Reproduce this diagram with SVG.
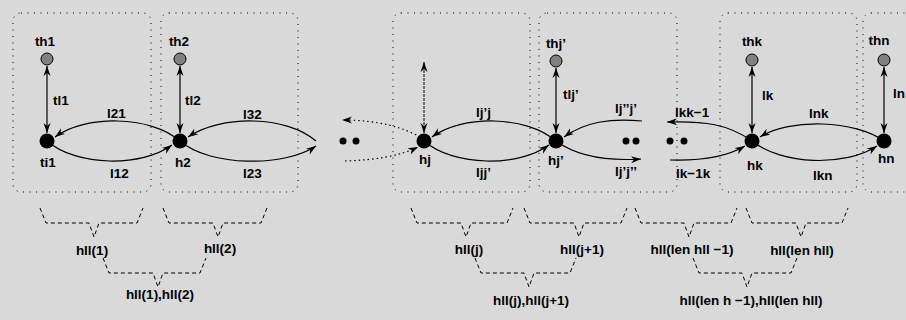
<svg xmlns="http://www.w3.org/2000/svg" width="906" height="320" viewBox="0 0 906 320">
  <style>
    text { font-family: "Liberation Sans", Arial, sans-serif; font-weight: bold; font-size: 13.5px; fill: #000; }
    .mid { text-anchor: middle; }
    .box { fill: none; stroke: #000; stroke-width: 1; stroke-dasharray: 1 5.5; }
    .edge { fill: none; stroke: #000; stroke-width: 1.2; }
    .dotted { fill: none; stroke: #000; stroke-width: 1.2; stroke-dasharray: 1.5 3; }
    .fine { fill: none; stroke: #000; stroke-width: 1; stroke-dasharray: 3 1; }
    .brace { fill: none; stroke: #000; stroke-width: 1; stroke-dasharray: 4 3; }
    .term { fill: #808080; stroke: #000; stroke-width: 1; }
    .dot { fill: #000; }
  </style>
  <defs>
    <marker id="arrow" viewBox="0 0 10 8" refX="10" refY="4" markerWidth="10" markerHeight="8" markerUnits="userSpaceOnUse" orient="auto-start-reverse">
      <path d="M0,0.5 L10,4 L0,7.5 L3,4 Z" fill="#000"/>
    </marker>
  </defs>

  <rect width="906" height="320" fill="#d9d9d9"/>

  <!-- dotted frames, one per hop -->
  <g id="frames">
    <rect class="box" x="13" y="13" width="138" height="179" rx="8"/>
    <rect class="box" x="161" y="13" width="137" height="179" rx="8"/>
    <rect class="box" x="393" y="13" width="137" height="179" rx="8"/>
    <rect class="box" x="539" y="13" width="138" height="179" rx="8"/>
    <rect class="box" x="720" y="13" width="137" height="179" rx="8"/>
    <rect class="box" x="863" y="13" width="137" height="179" rx="8"/>
  </g>

  <!-- connectors -->
  <g id="connectors">
    <!-- vertical tail links -->
    <path class="edge" d="M47,66 L47,133" marker-start="url(#arrow)" marker-end="url(#arrow)"/>
    <path class="edge" d="M180,66 L180,133" marker-start="url(#arrow)" marker-end="url(#arrow)"/>
    <path class="fine" d="M424,62 L424,133" marker-start="url(#arrow)" marker-end="url(#arrow)"/>
    <path class="edge" d="M556,68 L556,133" marker-start="url(#arrow)" marker-end="url(#arrow)"/>
    <path class="edge" d="M752,67 L752,133" marker-start="url(#arrow)" marker-end="url(#arrow)"/>
    <path class="edge" d="M884,67 L884,133" marker-start="url(#arrow)" marker-end="url(#arrow)"/>

    <!-- ti1 / h2 -->
    <path class="edge" d="M180,141 C150,115 85,115 55,137" marker-end="url(#arrow)"/>
    <path class="edge" d="M47,141 C77,167 142,167 172,145" marker-end="url(#arrow)"/>
    <path class="edge" d="M316,141 C286,115 221,115 188,137" marker-end="url(#arrow)"/>
    <path class="edge" d="M180,141 C210,167 285,167 316,146" marker-end="url(#arrow)"/>

    <!-- hj side links -->
    <path class="dotted" d="M424,139 C405,128 380,120 342,120" marker-end="url(#arrow)"/>
    <path class="dotted" d="M345,161 C375,160 400,156 418,147" marker-end="url(#arrow)"/>

    <!-- hj / hj' -->
    <path class="edge" d="M556,141 C526,115 462,115 432,137" marker-end="url(#arrow)"/>
    <path class="edge" d="M424,141 C454,167 519,167 549,145" marker-end="url(#arrow)"/>
    <path class="edge" d="M642,121 C610,118 585,122 564,137" marker-end="url(#arrow)"/>
    <path class="edge" d="M556,141 C578,157 610,161 641,159" marker-end="url(#arrow)"/>

    <!-- hk / hn -->
    <path class="edge" d="M752,141 C728,124 705,121 667,122" marker-end="url(#arrow)"/>
    <path class="edge" d="M670,160 C705,161 728,156 745,146" marker-end="url(#arrow)"/>
    <path class="edge" d="M884,141 C855,120 790,118 760,137" marker-end="url(#arrow)"/>
    <path class="edge" d="M752,141 C782,165 845,167 877,146" marker-end="url(#arrow)"/>

    <!-- grouping braces, first level -->
    <path class="brace" d="M40,208 L46,223 L89,223 L94,237 L99,223 L137,223 L143,208"/>
    <path class="brace" d="M163,208 L169,223 L213,223 L218,237 L223,223 L261,223 L267,208"/>
    <path class="brace" d="M411,208 L417,223 L461,223 L466,237 L471,223 L507,223 L513,208"/>
    <path class="brace" d="M524,208 L530,223 L574,223 L579,237 L584,223 L621,223 L627,208"/>
    <path class="brace" d="M635,208 L641,223 L684,223 L689,237 L694,223 L731,223 L737,208"/>
    <path class="brace" d="M746,208 L752,223 L796,223 L801,237 L806,223 L842,223 L848,208"/>

    <!-- grouping braces, second level -->
    <path class="brace" d="M103,258 L109,273 L153,273 L158,287 L163,273 L200,273 L206,258"/>
    <path class="brace" d="M475,258 L481,273 L524,273 L529,287 L534,273 L570,273 L576,258"/>
    <path class="brace" d="M693,258 L699,273 L742,273 L747,287 L752,273 L791,273 L797,258"/>
  </g>

  <!-- nodes -->
  <g id="th1"><circle class="term" cx="47" cy="59" r="6"/><text class="mid" x="45" y="46">th1</text></g>
  <g id="ti1"><circle class="dot" cx="47" cy="141" r="7.5"/><text x="40" y="167">ti1</text></g>
  <g id="th2"><circle class="term" cx="180" cy="59" r="6"/><text class="mid" x="179" y="46">th2</text></g>
  <g id="h2"><circle class="dot" cx="180" cy="141" r="7.5"/><text x="175" y="167">h2</text></g>
  <g id="hj"><circle class="dot" cx="424" cy="141" r="7.5"/><text x="419" y="164">hj</text></g>
  <g id="thj-prime"><circle class="term" cx="556" cy="61" r="6"/><text class="mid" x="556" y="48">thj’</text></g>
  <g id="hj-prime"><circle class="dot" cx="556" cy="141" r="7.5"/><text x="548" y="165">hj’</text></g>
  <g id="thk"><circle class="term" cx="752" cy="60" r="6"/><text class="mid" x="752" y="46">thk</text></g>
  <g id="hk"><circle class="dot" cx="752" cy="141" r="7.5"/><text x="747" y="170">hk</text></g>
  <g id="thn"><circle class="term" cx="884" cy="60" r="6"/><text class="mid" x="879" y="45">thn</text></g>
  <g id="hn"><circle class="dot" cx="884" cy="141" r="7.5"/><text x="878" y="163">hn</text></g>

  <!-- ellipsis dots -->
  <g id="gaps">
    <circle class="dot" cx="343" cy="141" r="3.5"/>
    <circle class="dot" cx="356" cy="141" r="3.5"/>
    <circle class="dot" cx="626" cy="141" r="3.5"/>
    <circle class="dot" cx="636" cy="141" r="3.5"/>
    <circle class="dot" cx="670" cy="141" r="3.5"/>
    <circle class="dot" cx="684" cy="141" r="3.5"/>
  </g>

  <!-- link labels -->
  <g id="link-labels">
    <text x="53" y="105">tl1</text>
    <text x="185" y="105">tl2</text>
    <text x="563" y="99">tlj’</text>
    <text x="762" y="100">lk</text>
    <text x="893" y="98">ln</text>
    <text x="107" y="118">l21</text>
    <text x="110" y="178">l12</text>
    <text x="243" y="119">l32</text>
    <text x="243" y="178">l23</text>
    <text x="476" y="117">lj’j</text>
    <text x="476" y="177">ljj’</text>
    <text x="615" y="113">lj’’j’</text>
    <text x="615" y="176">lj’j’’</text>
    <text x="675" y="117">lkk−1</text>
    <text x="676" y="178">lk−1k</text>
    <text x="809" y="118">lnk</text>
    <text x="813" y="180">lkn</text>
  </g>

  <!-- brace labels -->
  <g id="brace-labels">
    <text class="mid" x="92" y="255">hll(1)</text>
    <text class="mid" x="220" y="253">hll(2)</text>
    <text class="mid" x="469" y="254">hll(j)</text>
    <text class="mid" x="582" y="254">hll(j+1)</text>
    <text class="mid" x="692" y="254">hll(len hll −1)</text>
    <text class="mid" x="802" y="255">hll(len hll)</text>
    <text class="mid" x="160" y="299">hll(1),hll(2)</text>
    <text class="mid" x="531" y="305">hll(j),hll(j+1)</text>
    <text class="mid" x="751" y="305">hll(len h −1),hll(len hll)</text>
  </g>
</svg>
